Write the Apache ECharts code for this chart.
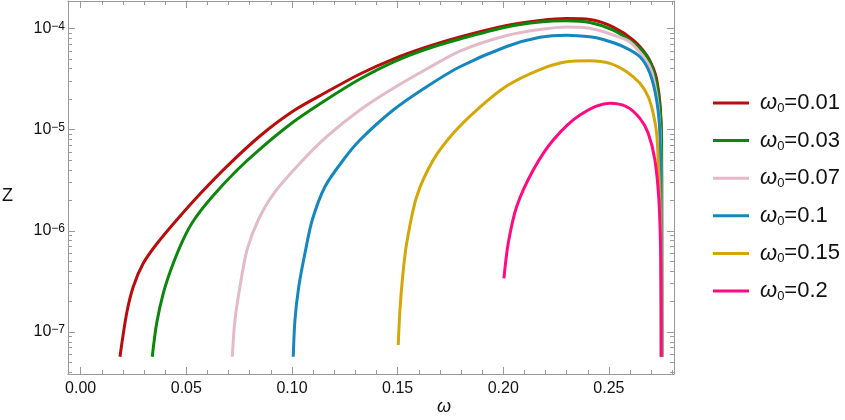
<!DOCTYPE html>
<html><head><meta charset="utf-8">
<script src="https://cdn.jsdelivr.net/npm/echarts@6/dist/echarts.min.js"></script>
<style>html,body{margin:0;padding:0;background:#fff}#c{width:845px;height:420px}</style>
</head><body><div id="c"></div>
<script>
// ---- data ----
const omega0Labels = ['0.01', '0.03', '0.07', '0.1', '0.15', '0.2'];
const seriesColors = ['#B80D0D', '#0C870C', '#E2BACA', '#1487BE', '#D4A706', '#FF0A82'];

const w001 = [0.01860,0.02177,0.02489,0.02962,0.03596,0.04543,0.05646,0.06909,0.08485,0.10061,0.11641,0.13217,0.14793,0.16373,0.17949,0.20159,0.21735,0.22998,0.24101,0.25203,0.26150,0.26784,0.27096,0.27257,0.27414,0.27484,0.27494,0.27499];
const z001 = [5.70e-8,1.53e-7,2.80e-7,4.77e-7,7.40e-7,1.278e-6,2.31e-6,4.31e-6,8.64e-6,1.524e-5,2.349e-5,3.54e-5,4.97e-5,6.54e-5,8.21e-5,1.066e-4,1.195e-4,1.250e-4,1.222e-4,1.030e-4,7.66e-5,5.45e-5,4.05e-5,3.157e-5,1.829e-5,7.88e-6,1.278e-6,5.70e-8];

const w003 = [0.03388,0.03596,0.03909,0.04320,0.04841,0.05362,0.06213,0.07382,0.08485,0.10061,0.11641,0.13217,0.14793,0.16373,0.17949,0.20159,0.21735,0.22998,0.24101,0.25203,0.26150,0.26751,0.27035,0.27257,0.27414,0.27494,0.27503,0.27508];
const z003 = [5.70e-8,1.219e-7,2.412e-7,4.417e-7,8.106e-7,1.278e-6,2.156e-6,3.938e-6,6.424e-6,1.187e-5,1.981e-5,3.157e-5,4.646e-5,6.245e-5,7.842e-5,1.030e-4,1.154e-4,1.189e-4,1.141e-4,9.62e-5,7.16e-5,5.45e-5,4.147e-5,2.862e-5,1.681e-5,7.88e-6,1.278e-6,5.70e-8];

const w007 = [0.07174,0.07302,0.07538,0.07870,0.08404,0.09147,0.10378,0.11641,0.13217,0.14793,0.16373,0.17949,0.20159,0.21735,0.22998,0.24101,0.25203,0.25994,0.26784,0.27035,0.27201,0.27333,0.27437,0.27475,0.27484];
const z007 = [5.70e-8,1.314e-7,2.80e-7,6.457e-7,1.278e-6,2.345e-6,4.640e-6,8.50e-6,1.560e-5,2.554e-5,3.963e-5,5.968e-5,8.492e-5,9.73e-5,1.030e-4,1.000e-4,8.59e-5,7.32e-5,4.753e-5,3.702e-5,2.572e-5,1.681e-5,7.88e-6,1.278e-6,5.70e-8];

const w010 = [0.10061,0.10141,0.10321,0.10614,0.10960,0.11561,0.12427,0.13217,0.14793,0.16373,0.17949,0.20159,0.21735,0.22998,0.24101,0.24730,0.25677,0.26467,0.26940,0.27257,0.27414,0.27461,0.27475,0.27484];
const z010 = [5.70e-8,1.314e-7,2.80e-7,5.991e-7,1.278e-6,2.724e-6,5.003e-6,7.88e-6,1.560e-5,2.649e-5,4.176e-5,6.611e-5,8.151e-5,8.55e-5,8.26e-5,7.75e-5,6.611e-5,5.243e-5,3.594e-5,1.957e-5,9.18e-6,2.014e-6,5.144e-7,5.70e-8];

const w015 = [0.15029,0.15110,0.15238,0.15427,0.15900,0.16686,0.17632,0.18739,0.20159,0.21735,0.22998,0.24101,0.25047,0.25838,0.26467,0.26860,0.27096,0.27257,0.27333,0.27414,0.27461,0.27475];
const z015 = [7.44e-8,1.650e-7,3.517e-7,7.519e-7,2.171e-6,5.003e-6,9.18e-6,1.560e-5,2.692e-5,3.918e-5,4.668e-5,4.786e-5,4.511e-5,3.727e-5,2.862e-5,2.110e-5,1.447e-5,9.18e-6,5.003e-6,2.014e-6,6.457e-7,5.70e-8];

const w020 = [0.20031,0.20235,0.20632,0.21418,0.22364,0.23628,0.25047,0.25838,0.26467,0.26860,0.27177,0.27366,0.27447,0.27470,0.27475];
const z020 = [3.391e-7,7.519e-7,1.729e-6,3.983e-6,7.88e-6,1.392e-5,1.816e-5,1.681e-5,1.291e-5,9.18e-6,5.003e-6,2.014e-6,6.457e-7,2.071e-7,5.70e-8];

const omegaTicks = [0, 0.05, 0.10, 0.15, 0.20, 0.25];
const omegaTickLabels = ['0.00', '0.05', '0.10', '0.15', '0.20', '0.25'];
const omegaMinor = [0.01,0.02,0.03,0.04,0.06,0.07,0.08,0.09,0.11,0.12,0.13,0.14,0.16,0.17,0.18,0.19,0.21,0.22,0.23,0.24,0.26,0.27,0.28];
const zTicks = [1e-7, 1e-6, 1e-5, 1e-4];
const zTickExp = ['−7', '−6', '−5', '−4'];
const zMinor = [4e-8,5e-8,6e-8,7e-8,8e-8,9e-8, 2e-7,3e-7,4e-7,5e-7,6e-7,7e-7,8e-7,9e-7, 2e-6,3e-6,4e-6,5e-6,6e-6,7e-6,8e-6,9e-6, 2e-5,3e-5,4e-5,5e-5,6e-5,7e-5,8e-5,9e-5];

const X_MIN = -0.006, X_MAX = 0.2808;
const Y_MIN = 3.85e-8, Y_MAX = 1.862e-4;

// ---- chart ----
const FONT = '"Liberation Sans", Arial, sans-serif';
const FRAME = '#999999';
const seriesW = [w001, w003, w007, w010, w015, w020];
const seriesZ = [z001, z003, z007, z010, z015, z020];

const chart = echarts.init(document.getElementById('c'), null, {renderer: 'canvas'});

function xAx(grid, pos, ticks, len, showLine, showLabel) {
  return {
    type: 'value', gridIndex: grid, position: pos, min: X_MIN, max: X_MAX,
    axisLine: {show: showLine, onZero: false, lineStyle: {color: FRAME, width: 1}},
    axisTick: {show: true, inside: true, length: len, customValues: ticks, lineStyle: {color: FRAME, width: 1}},
    axisLabel: showLabel ? {
      show: true, customValues: omegaTicks, margin: 7, color: '#111', fontSize: 16, fontFamily: FONT,
      formatter: v => { const i = omegaTicks.findIndex(t => Math.abs(t - v) < 1e-9); return i >= 0 ? omegaTickLabels[i] : ''; }
    } : {show: false},
    splitLine: {show: false}, minorTick: {show: false}
  };
}
function yAx(grid, pos, ticks, len, showLine, showLabel) {
  return {
    type: 'log', logBase: 10, gridIndex: grid, position: pos, min: Y_MIN, max: Y_MAX,
    axisLine: {show: showLine, onZero: false, lineStyle: {color: FRAME, width: 1}},
    axisTick: {show: true, inside: true, length: len, customValues: ticks, lineStyle: {color: FRAME, width: 1}},
    axisLabel: showLabel ? {
      show: true, customValues: zTicks, margin: 3, color: '#111', fontFamily: FONT,
      formatter: v => { const i = zTicks.findIndex(t => Math.abs(Math.log10(t) - Math.log10(v)) < 1e-6); return i >= 0 ? '{b|10}{s|' + zTickExp[i] + '}' : ''; },
      rich: {
        b: {fontSize: 16, lineHeight: 16, fontFamily: FONT, color: '#111'},
        s: {fontSize: 12, lineHeight: 8, verticalAlign: 'top', fontFamily: FONT, color: '#111'}
      }
    } : {show: false},
    splitLine: {show: false}, minorTick: {show: false}
  };
}

const gridBox = {left: 68, top: 1, width: 606, height: 373, containLabel: false, outerBoundsMode: 'none'};

const option = {
  animation: false,
  backgroundColor: '#fff',
  grid: [Object.assign({}, gridBox), Object.assign({}, gridBox)],
  xAxis: [
    xAx(0, 'bottom', omegaTicks, 7, true, true),
    xAx(0, 'top', omegaTicks, 7, true, false),
    xAx(1, 'bottom', omegaMinor, 4, false, false),
    xAx(1, 'top', omegaMinor, 4, false, false)
  ],
  yAxis: [
    yAx(0, 'left', zTicks, 7, true, true),
    yAx(0, 'right', zTicks, 7, true, false),
    yAx(1, 'left', zMinor, 4, false, false),
    yAx(1, 'right', zMinor, 4, false, false)
  ],
  legend: {
    orient: 'vertical', left: 708, top: 87,
    icon: 'rect', itemWidth: 36, itemHeight: 3, itemGap: 14.6,
    data: omega0Labels.map(l => 'ω0=' + l),
    formatter: name => '{w|ω}{s|0}{n|=' + name.split('=')[1] + '}',
    textStyle: {
      rich: {
        w: {fontSize: 22, lineHeight: 24, fontStyle: 'italic', fontFamily: FONT, color: '#111', padding: [0, 0, 0, 6]},
        s: {fontSize: 13, lineHeight: 10, verticalAlign: 'bottom', fontFamily: FONT, color: '#111'},
        n: {fontSize: 22, lineHeight: 24, fontFamily: FONT, color: '#111'}
      }
    }
  },
  graphic: [
    {type: 'text', left: 2, top: 187, style: {text: 'Z', fontSize: 18, fontFamily: FONT, fill: '#111'}},
    {type: 'text', left: 437, top: 398, style: {text: 'ω', fontSize: 18, fontStyle: 'italic', fontFamily: FONT, fill: '#111'}}
  ],
  series: seriesW.map((ws, k) => ({
    name: 'ω0=' + omega0Labels[k],
    type: 'line', xAxisIndex: 0, yAxisIndex: 0,
    data: ws.map((w, i) => [w, seriesZ[k][i]]),
    showSymbol: false, symbol: 'none',
    smooth: 0.3,
    lineStyle: {color: seriesColors[k], width: 3},
    itemStyle: {color: seriesColors[k]},
    emphasis: {disabled: true}
  }))
};
chart.setOption(option);
</script></body></html>
